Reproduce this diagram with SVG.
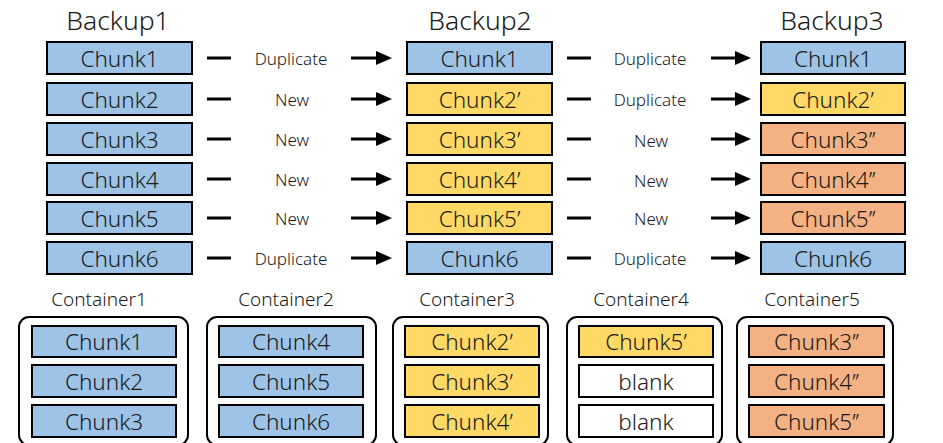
<svg xmlns="http://www.w3.org/2000/svg" width="943" height="443" viewBox="0 0 943 443">
  <defs>
    <style>
      text { font-family: "Noto Sans", "Liberation Sans", sans-serif; font-weight: 300; fill: #1a1a1a; text-anchor: middle; }
      .title { font-size: 26.5px; }
      .chunk-label { font-size: 22.5px; }
      .op { font-size: 17px; }
      .ctitle { font-size: 19px; }
      .chunk { stroke: #000; stroke-width: 2; }
      .blue { fill: #9DC3E6; }
      .yellow { fill: #FFD966; }
      .orange { fill: #F4B183; }
      .white { fill: #FFFFFF; }
      .container { fill: none; stroke: #000; stroke-width: 2; }
      .dash { stroke: #000; stroke-width: 3; }
      .arrow { stroke: #000; stroke-width: 3; marker-end: url(#head); }
    </style>
    <marker id="head" markerUnits="userSpaceOnUse" markerWidth="16" markerHeight="14" refX="4" refY="7" orient="auto">
      <path d="M0,0 L16,7 L0,14 z" fill="#000"/>
    </marker>
  </defs>

  <!-- Backup columns -->
  <g id="backup1">
    <text class="title" x="118" y="30">Backup1</text>
    <g id="b1-chunk1"><rect class="chunk blue" x="47" y="42" width="145" height="32"/><text class="chunk-label" x="119.5" y="66.5">Chunk1</text></g>
    <g id="b1-chunk2"><rect class="chunk blue" x="47" y="83" width="145" height="32"/><text class="chunk-label" x="119.5" y="107.5">Chunk2</text></g>
    <g id="b1-chunk3"><rect class="chunk blue" x="47" y="123" width="145" height="32"/><text class="chunk-label" x="119.5" y="147.5">Chunk3</text></g>
    <g id="b1-chunk4"><rect class="chunk blue" x="47" y="163" width="145" height="32"/><text class="chunk-label" x="119.5" y="187.5">Chunk4</text></g>
    <g id="b1-chunk5"><rect class="chunk blue" x="47" y="202" width="145" height="32"/><text class="chunk-label" x="119.5" y="226.5">Chunk5</text></g>
    <g id="b1-chunk6"><rect class="chunk blue" x="47" y="242" width="145" height="32"/><text class="chunk-label" x="119.5" y="266.5">Chunk6</text></g>
  </g>

  <g id="backup2">
    <text class="title" x="480" y="30">Backup2</text>
    <g id="b2-chunk1"><rect class="chunk blue" x="407" y="42" width="145" height="32"/><text class="chunk-label" x="479.5" y="66.5">Chunk1</text></g>
    <g id="b2-chunk2"><rect class="chunk yellow" x="407" y="83" width="145" height="32"/><text class="chunk-label" x="479.5" y="107.5">Chunk2’</text></g>
    <g id="b2-chunk3"><rect class="chunk yellow" x="407" y="123" width="145" height="32"/><text class="chunk-label" x="479.5" y="147.5">Chunk3’</text></g>
    <g id="b2-chunk4"><rect class="chunk yellow" x="407" y="163" width="145" height="32"/><text class="chunk-label" x="479.5" y="187.5">Chunk4’</text></g>
    <g id="b2-chunk5"><rect class="chunk yellow" x="407" y="202" width="145" height="32"/><text class="chunk-label" x="479.5" y="226.5">Chunk5’</text></g>
    <g id="b2-chunk6"><rect class="chunk blue" x="407" y="242" width="145" height="32"/><text class="chunk-label" x="479.5" y="266.5">Chunk6</text></g>
  </g>

  <g id="backup3">
    <text class="title" x="832" y="30">Backup3</text>
    <g id="b3-chunk1"><rect class="chunk blue" x="761" y="42" width="144" height="32"/><text class="chunk-label" x="833" y="66.5">Chunk1</text></g>
    <g id="b3-chunk2"><rect class="chunk yellow" x="761" y="83" width="144" height="32"/><text class="chunk-label" x="833" y="107.5">Chunk2’</text></g>
    <g id="b3-chunk3"><rect class="chunk orange" x="761" y="123" width="144" height="32"/><text class="chunk-label" x="833" y="147.5">Chunk3’’</text></g>
    <g id="b3-chunk4"><rect class="chunk orange" x="761" y="163" width="144" height="32"/><text class="chunk-label" x="833" y="187.5">Chunk4’’</text></g>
    <g id="b3-chunk5"><rect class="chunk orange" x="761" y="202" width="144" height="32"/><text class="chunk-label" x="833" y="226.5">Chunk5’’</text></g>
    <g id="b3-chunk6"><rect class="chunk blue" x="761" y="242" width="144" height="32"/><text class="chunk-label" x="833" y="266.5">Chunk6</text></g>
  </g>

  <!-- Dedup transitions between backups -->
  <g id="connectors">
    <g id="b1-to-b2">
      <line class="dash" x1="207" y1="58" x2="231" y2="58"/><text class="op" x="291" y="64.5">Duplicate</text><line class="arrow" x1="351" y1="58" x2="380" y2="58"/>
      <line class="dash" x1="207" y1="99" x2="231" y2="99"/><text class="op" x="292" y="105.5">New</text><line class="arrow" x1="351" y1="99" x2="380" y2="99"/>
      <line class="dash" x1="207" y1="139" x2="231" y2="139"/><text class="op" x="292" y="145.5">New</text><line class="arrow" x1="351" y1="139" x2="380" y2="139"/>
      <line class="dash" x1="207" y1="179" x2="231" y2="179"/><text class="op" x="292" y="185.5">New</text><line class="arrow" x1="351" y1="179" x2="380" y2="179"/>
      <line class="dash" x1="207" y1="218" x2="231" y2="218"/><text class="op" x="292" y="224.5">New</text><line class="arrow" x1="351" y1="218" x2="380" y2="218"/>
      <line class="dash" x1="207" y1="258" x2="231" y2="258"/><text class="op" x="291" y="264.5">Duplicate</text><line class="arrow" x1="351" y1="258" x2="380" y2="258"/>
    </g>
    <g id="b2-to-b3">
      <line class="dash" x1="567" y1="58" x2="591" y2="58"/><text class="op" x="650" y="64.5">Duplicate</text><line class="arrow" x1="711" y1="58" x2="739" y2="58"/>
      <line class="dash" x1="567" y1="99" x2="591" y2="99"/><text class="op" x="650" y="105.5">Duplicate</text><line class="arrow" x1="711" y1="99" x2="739" y2="99"/>
      <line class="dash" x1="567" y1="139" x2="591" y2="139"/><text class="op" x="651" y="147">New</text><line class="arrow" x1="711" y1="139" x2="739" y2="139"/>
      <line class="dash" x1="567" y1="179" x2="591" y2="179"/><text class="op" x="651" y="186.5">New</text><line class="arrow" x1="711" y1="179" x2="739" y2="179"/>
      <line class="dash" x1="567" y1="218" x2="591" y2="218"/><text class="op" x="651" y="225">New</text><line class="arrow" x1="711" y1="218" x2="739" y2="218"/>
      <line class="dash" x1="567" y1="258" x2="591" y2="258"/><text class="op" x="650" y="265">Duplicate</text><line class="arrow" x1="711" y1="258" x2="739" y2="258"/>
    </g>
  </g>

  <!-- Storage containers -->
  <g id="container1">
    <text class="ctitle" x="99" y="306">Container1</text>
    <rect class="container" x="19" y="317" width="169" height="128" rx="10"/>
    <rect class="chunk blue" x="32" y="326" width="144" height="31"/><text class="chunk-label" x="104" y="350">Chunk1</text>
    <rect class="chunk blue" x="32" y="365" width="144" height="32"/><text class="chunk-label" x="104" y="389.5">Chunk2</text>
    <rect class="chunk blue" x="32" y="405" width="144" height="32"/><text class="chunk-label" x="104" y="429.5">Chunk3</text>
  </g>
  <g id="container2">
    <text class="ctitle" x="286" y="306">Container2</text>
    <rect class="container" x="207" y="317" width="169" height="128" rx="10"/>
    <rect class="chunk blue" x="219" y="326" width="144" height="31"/><text class="chunk-label" x="291" y="350">Chunk4</text>
    <rect class="chunk blue" x="219" y="365" width="144" height="32"/><text class="chunk-label" x="291" y="389.5">Chunk5</text>
    <rect class="chunk blue" x="219" y="405" width="144" height="32"/><text class="chunk-label" x="291" y="429.5">Chunk6</text>
  </g>
  <g id="container3">
    <text class="ctitle" x="467" y="306">Container3</text>
    <rect class="container" x="393" y="317" width="155" height="128" rx="10"/>
    <rect class="chunk yellow" x="405" y="326" width="134" height="31"/><text class="chunk-label" x="472" y="350">Chunk2’</text>
    <rect class="chunk yellow" x="405" y="365" width="134" height="32"/><text class="chunk-label" x="472" y="389.5">Chunk3’</text>
    <rect class="chunk yellow" x="405" y="405" width="134" height="32"/><text class="chunk-label" x="472" y="429.5">Chunk4’</text>
  </g>
  <g id="container4">
    <text class="ctitle" x="641" y="306">Container4</text>
    <rect class="container" x="567" y="317" width="155" height="128" rx="10"/>
    <rect class="chunk yellow" x="579" y="326" width="134" height="31"/><text class="chunk-label" x="646" y="350">Chunk5’</text>
    <rect class="chunk white" x="579" y="365" width="134" height="32"/><text class="chunk-label" x="646" y="389.5">blank</text>
    <rect class="chunk white" x="579" y="405" width="134" height="32"/><text class="chunk-label" x="646" y="429.5">blank</text>
  </g>
  <g id="container5">
    <text class="ctitle" x="812" y="306">Container5</text>
    <rect class="container" x="737" y="317" width="156" height="128" rx="10"/>
    <rect class="chunk orange" x="749" y="326" width="135" height="31"/><text class="chunk-label" x="816.5" y="350">Chunk3’’</text>
    <rect class="chunk orange" x="749" y="365" width="135" height="32"/><text class="chunk-label" x="816.5" y="389.5">Chunk4’’</text>
    <rect class="chunk orange" x="749" y="405" width="135" height="32"/><text class="chunk-label" x="816.5" y="429.5">Chunk5’’</text>
  </g>
</svg>
